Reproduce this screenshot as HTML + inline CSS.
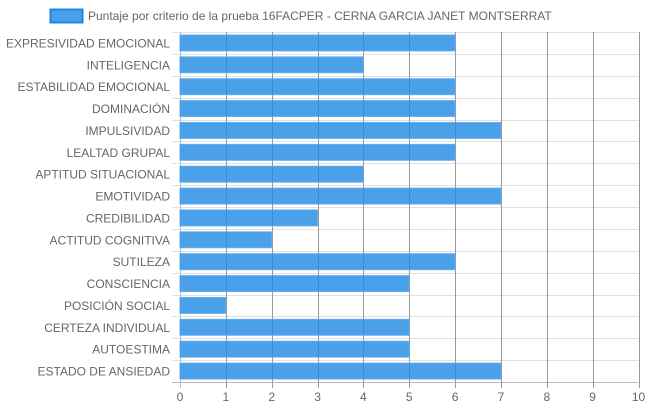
<!DOCTYPE html>
<html><head><meta charset="utf-8"><style>
body{margin:0;background:#fff;}
svg{display:block;font-family:"Liberation Sans",sans-serif;}
</style></head><body>
<svg id="c" width="648" height="410">
<g>
<rect x="50.5" y="9.5" width="32" height="13" fill="rgba(30,136,229,0.8)" stroke="#1e88e5" stroke-width="2"/>
<text x="88" y="20" font-size="12" fill="#666">Puntaje por criterio de la prueba 16FACPER - CERNA GARCIA JANET MONTSERRAT</text>
</g>
<g id="grid"></g><g id="bars"></g><g id="labels"></g>
</svg>
<script>
const categories=["EXPRESIVIDAD EMOCIONAL","INTELIGENCIA","ESTABILIDAD EMOCIONAL","DOMINACIÓN","IMPULSIVIDAD","LEALTAD GRUPAL","APTITUD SITUACIONAL","EMOTIVIDAD","CREDIBILIDAD","ACTITUD COGNITIVA","SUTILEZA","CONSCIENCIA","POSICIÓN SOCIAL","CERTEZA INDIVIDUAL","AUTOESTIMA","ESTADO DE ANSIEDAD"];
const values=[6,4,6,6,7,6,4,7,3,2,6,5,1,5,5,7];
const ticks=[0,1,2,3,4,5,6,7,8,9,10];
const NS="http://www.w3.org/2000/svg";
const L=180,R=638.5,T=32,B=382;
const x=v=>L+(R-L)*v/10;
const band=(B-T)/categories.length;
const y=i=>T+band*i;
function mk(tag,attrs,parent){const e=document.createElementNS(NS,tag);for(const k in attrs)e.setAttribute(k,attrs[k]);parent.appendChild(e);return e;}
const grid=document.getElementById('grid'),bars=document.getElementById('bars'),labels=document.getElementById('labels');
for(let i=0;i<=categories.length;i++){
 const yy=Math.round(y(i))+0.5;
 const l=mk('line',{x1:L-8,x2:R,y1:yy,y2:yy,stroke:i===categories.length?'#bbb':'#e0e0e0','stroke-width':1},grid);
 
 
}
ticks.forEach(t=>{
 const xx=Math.round(x(t))+0.5;
 const l=mk('line',{x1:xx,x2:xx,y1:T,y2:B+6,stroke:t===0?'#bbb':'#999','stroke-width':1},grid);
 
 
 const tx=mk('text',{x:x(t),y:B+19,'font-size':12,fill:'#666','text-anchor':'middle'},labels);
 tx.textContent=t;
 
 
});
categories.forEach((c,i)=>{
 const h=16,yc=y(i)+band/2;
 const r=mk('rect',{x:x(0),y:yc-h/2,width:x(values[i])-x(0),height:h,fill:'rgba(30,136,229,0.8)',stroke:'rgba(100,170,240,0.9)','stroke-width':1},bars);
 
 
 const tx=mk('text',{x:170,y:yc+4.5,'font-size':12,fill:'#666','text-anchor':'end'},labels);
 tx.textContent=c;
 
 
});
</script>
</body></html>
